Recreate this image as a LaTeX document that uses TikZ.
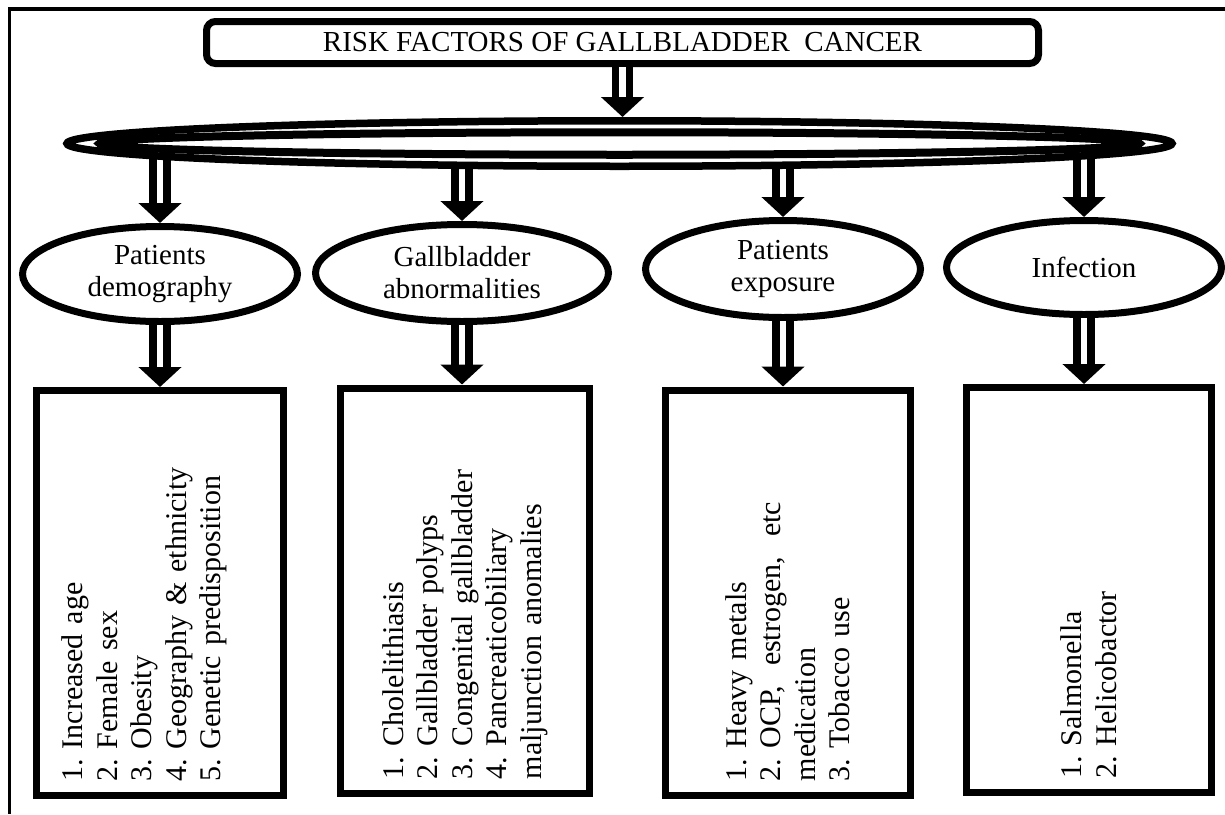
\documentclass[tikz,border=0pt]{standalone}
\usepackage{fontspec}
\setmainfont{Liberation Serif}
\usetikzlibrary{arrows.meta,shapes.geometric,backgrounds}
\frenchspacing

\begin{document}
\begin{tikzpicture}[x=1pt,y=-1pt,
	pipe/.style={double,double distance=6.5pt,line width=7.5pt,-{Triangle[width=42pt,length=20pt]}},
	oval/.style={ellipse,draw,line width=7pt,fill=white,align=center,inner sep=0pt,font=\fontsize{29}{32}\selectfont},
	listbox/.style={rectangle,draw,line width=7pt,rotate=90,align=left,inner xsep=14pt,inner ysep=0pt,text width=377pt,minimum width=405pt,font=\fontsize{30}{34.5}\selectfont}]
	\useasboundingbox (0,0) rectangle (1225,814);
	\draw[line width=3.5pt] (1225,9) -- (9.5,9) -- (9.5,814);

	\node[draw,line width=7pt,rounded corners=9pt,minimum width=832pt,minimum height=42pt,font=\fontsize{29}{32}\selectfont] (title) at (622.5,42.5) {RISK FACTORS OF GALLBLADDER\ \ CANCER};
	\node[ellipse,draw,line width=7.5pt,fill=white,minimum width=1105pt,minimum height=45.5pt,inner sep=0pt] (hub) at (619.5,143.5) {};
	\draw[line width=8pt] (hub.center) ellipse [x radius=520pt,y radius=11.25pt];

	\node[oval,minimum width=275pt,minimum height=95pt] (demo) at (160,274) {Patients\\demography};
	\node[oval,minimum width=293pt,minimum height=97pt] (gall) at (462,273) {Gallbladder\\abnormalities};
	\node[oval,minimum width=275pt,minimum height=97pt] (expo) at (783,269) {Patients\\exposure};
	\node[oval,minimum width=275pt,minimum height=94pt] (infe) at (1084,267.5) {Infection};

	\node[listbox,minimum height=247pt,text depth=175pt] (demolist) at (160,593) {1. Increased age\\2. Female sex\\3. Obesity\\4. Geography \& ethnicity\\5. Genetic predisposition};
	\node[listbox,minimum height=249pt] (galllist) at (465,590.5) {1. Cholelithiasis\\2. Gallbladder polyps\\3. Congenital gallbladder\\4. Pancreaticobiliary\\maljunction anomalies};
	\node[listbox,minimum height=245pt] (expolist) at (788,592.5) {1. Heavy metals\\2. OCP,\ \ estrogen,\ \ etc\\medication\\3. Tobacco use};
	\node[listbox,minimum height=245pt] (infelist) at (1089,590) {1. Salmonella\\2. Helicobactor};

	\draw[pipe] (title.south) -- (title.south |- hub.north);
	\begin{scope}[on background layer]
		\foreach \e in {demo,gall,expo,infe}
			\draw[pipe] (\e.north |- hub.center) -- (\e.north);
	\end{scope}
	\foreach \e in {demo,gall,expo,infe}
		\draw[pipe] (\e.south) -- (\e.south |- \e list.east);
\end{tikzpicture}
\end{document}
